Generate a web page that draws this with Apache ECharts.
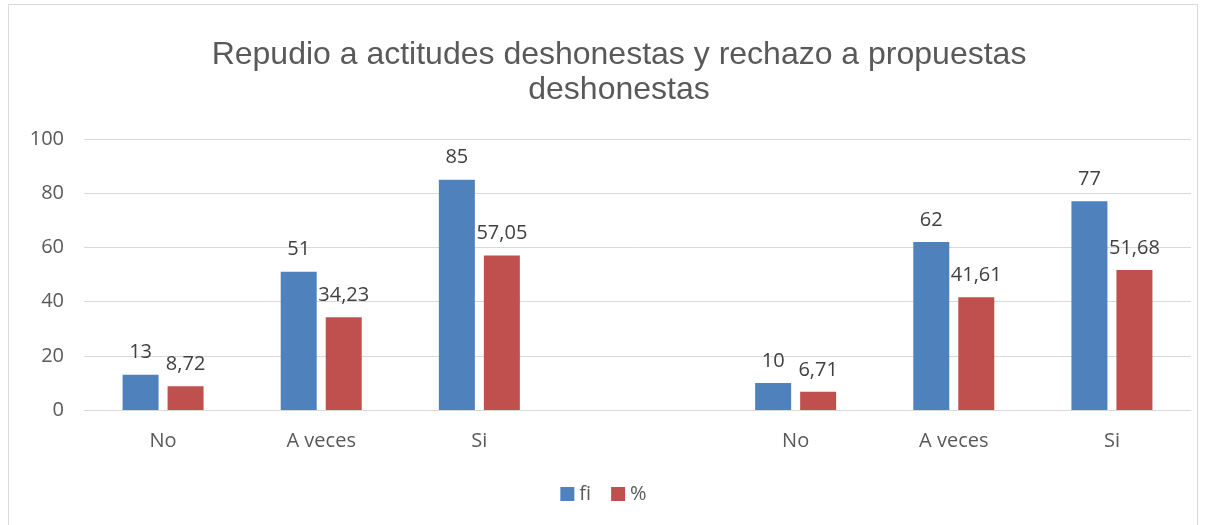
<!DOCTYPE html>
<html>
<head>
<meta charset="utf-8">
<script src="https://cdn.jsdelivr.net/npm/echarts@6/dist/echarts.min.js"></script>
<style>
  html, body { margin: 0; padding: 0; background: #fff; }
  #chart { width: 1207px; height: 525px; }
  .frame { position: absolute; left: 8px; top: 4px; width: 1190px; height: 530px; border: 1px solid #d9d9d9; box-sizing: border-box; }
</style>
</head>
<body>
<div class="frame"></div>
<div id="chart"></div>
<script>
var categories = ['No', 'A veces', 'Si', '', 'No', 'A veces', 'Si'];
var fiValues = [13, 51, 85, null, 10, 62, 77];
var pctValues = [8.72, 34.23, 57.05, null, 6.71, 41.61, 51.68];
var yTicks = [0, 20, 40, 60, 80, 100];

var chartDom = document.getElementById('chart');
var myChart = echarts.init(chartDom);
var option;

var fontFam = '"Open Sans", "Liberation Sans", sans-serif';

function commaLabel(p) {
  if (p.value == null) return '';
  return String(p.value).replace('.', ',');
}

option = {
  animation: false,
  textStyle: { fontFamily: fontFam },
  title: {
    text: 'Repudio a actitudes deshonestas y rechazo a propuestas\ndeshonestas',
    left: 614,
    top: 33,
    textAlign: 'center',
    textStyle: {
      fontFamily: '"Liberation Sans", Arial, sans-serif',
      fontSize: 32,
      fontWeight: 'normal',
      color: '#595959',
      lineHeight: 35
    }
  },
  legend: {
    data: ['fi', '%'],
    bottom: 16,
    left: 'center',
    itemWidth: 14,
    itemHeight: 14,
    itemGap: 20,
    icon: 'rect',
    textStyle: { fontFamily: fontFam, fontSize: 20, color: '#595959' }
  },
  grid: {
    left: 84,
    right: 16,
    top: 139,
    bottom: 115
  },
  xAxis: {
    type: 'category',
    data: categories,
    axisLine: { lineStyle: { color: '#d9d9d9' } },
    axisTick: { show: false },
    axisLabel: { fontSize: 20, color: '#595959', margin: 21, fontFamily: fontFam }
  },
  yAxis: {
    type: 'value',
    min: yTicks[0],
    max: yTicks[yTicks.length - 1],
    interval: 20,
    axisLabel: { fontSize: 20, color: '#595959', margin: 20, fontFamily: fontFam },
    splitLine: { lineStyle: { color: '#d9d9d9', width: 1 } },
    axisLine: { show: false },
    axisTick: { show: false }
  },
  series: [
    {
      name: 'fi',
      type: 'bar',
      data: fiValues,
      barWidth: 36,
      barGap: '25%',
      itemStyle: { color: '#4f81bd' },
      label: {
        show: true,
        position: 'top',
        distance: 12,
        fontSize: 20,
        color: '#404040',
        fontFamily: fontFam,
        formatter: commaLabel
      }
    },
    {
      name: '%',
      type: 'bar',
      data: pctValues,
      barWidth: 36,
      itemStyle: { color: '#c0504d' },
      label: {
        show: true,
        position: 'top',
        distance: 12,
        fontSize: 20,
        color: '#404040',
        fontFamily: fontFam,
        formatter: commaLabel
      }
    }
  ]
};

option && myChart.setOption(option);
</script>
</body>
</html>
